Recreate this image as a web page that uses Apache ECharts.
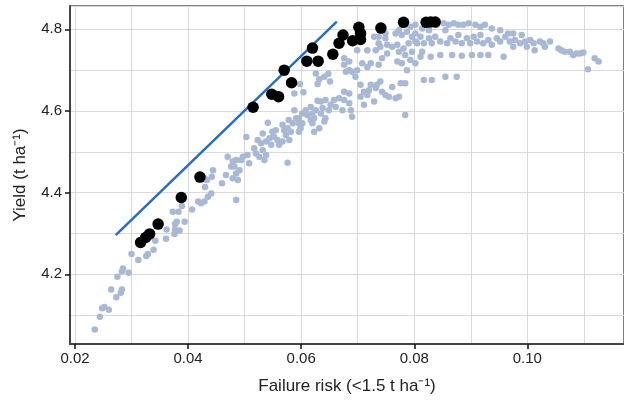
<!DOCTYPE html>
<html>
<head>
<meta charset="utf-8">
<script src="https://cdn.jsdelivr.net/npm/echarts@6/dist/echarts.min.js"></script>
<style>
  html, body { margin: 0; padding: 0; background: #fff; }
  #chart { width: 624px; height: 402px; }
</style>
</head>
<body>
<div id="chart"></div>
<script>
// axis labels
const xTicks = [0.02, 0.04, 0.06, 0.08, 0.10]
const yTicks = [4.2, 4.4, 4.6, 4.8]

// all evaluated options (failure risk, yield)
const allOptions = [
  [0.0235, 4.065], [0.0244, 4.096], [0.0248, 4.117], [0.0252, 4.120], [0.0260, 4.113],
  [0.0264, 4.163], [0.0273, 4.144], [0.0281, 4.155], [0.0283, 4.163], [0.0275, 4.194],
  [0.0285, 4.214], [0.0283, 4.207], [0.0295, 4.204], [0.0300, 4.250], [0.0312, 4.235],
  [0.0326, 4.245], [0.0329, 4.250], [0.0339, 4.260], [0.0342, 4.282], [0.0361, 4.287],
  [0.0362, 4.310], [0.0376, 4.299], [0.0377, 4.310], [0.0385, 4.307], [0.0380, 4.329],
  [0.0377, 4.323], [0.0394, 4.329], [0.0373, 4.353], [0.0383, 4.353], [0.0389, 4.367],
  [0.0407, 4.359], [0.0418, 4.378], [0.0423, 4.374], [0.0429, 4.378], [0.0435, 4.390],
  [0.0441, 4.398], [0.0430, 4.414], [0.0433, 4.431], [0.0442, 4.439], [0.0429, 4.435],
  [0.0460, 4.423], [0.0467, 4.443], [0.0479, 4.435], [0.0485, 4.447], [0.0488, 4.431],
  [0.0485, 4.382], [0.0444, 4.455],
  [0.0470, 4.488], [0.0476, 4.464], [0.0482, 4.464], [0.0485, 4.480], [0.0479, 4.476],
  [0.0491, 4.455], [0.0494, 4.480], [0.0497, 4.488], [0.0503, 4.536], [0.0505, 4.492],
  [0.0508, 4.472], [0.0517, 4.509], [0.0520, 4.496], [0.0529, 4.521], [0.0526, 4.488],
  [0.0535, 4.480], [0.0538, 4.492], [0.0532, 4.504], [0.0538, 4.525], [0.0544, 4.533],
  [0.0547, 4.517], [0.0552, 4.537], [0.0555, 4.553], [0.0549, 4.549], [0.0541, 4.571],
  [0.0558, 4.529], [0.0561, 4.517], [0.0567, 4.525], [0.0573, 4.541], [0.0570, 4.553],
  [0.0576, 4.558], [0.0579, 4.529], [0.0585, 4.570], [0.0591, 4.582], [0.0588, 4.602],
  [0.0596, 4.570], [0.0599, 4.558], [0.0596, 4.549], [0.0576, 4.473], [0.0602, 4.594],
  [0.0608, 4.602], [0.0611, 4.590], [0.0617, 4.578], [0.0620, 4.570], [0.0623, 4.582],
  [0.0626, 4.602], [0.0629, 4.625], [0.0635, 4.623], [0.0635, 4.594], [0.0638, 4.607],
  [0.0641, 4.574], [0.0643, 4.582], [0.0643, 4.627], [0.0632, 4.558], [0.0623, 4.549],
  [0.0588, 4.643], [0.0598, 4.666], [0.0604, 4.646], [0.0626, 4.692], [0.0632, 4.678],
  [0.0629, 4.666], [0.0641, 4.684], [0.0648, 4.691], [0.0651, 4.672],
  [0.0523, 4.529], [0.0532, 4.545], [0.0567, 4.566], [0.0578, 4.578], [0.0582, 4.549],
  [0.0596, 4.582], [0.0602, 4.570], [0.0617, 4.610], [0.0620, 4.594], [0.0649, 4.602],
  [0.0652, 4.615], [0.0658, 4.627], [0.0661, 4.610], [0.0667, 4.631], [0.0673, 4.602],
  [0.0676, 4.627], [0.0685, 4.619], [0.0690, 4.586], [0.0685, 4.643], [0.0676, 4.647],
  [0.0784, 4.590], [0.0688, 4.602],
  [0.0676, 4.713], [0.0679, 4.696], [0.0685, 4.700], [0.0690, 4.696], [0.0699, 4.700],
  [0.0705, 4.664], [0.0711, 4.647], [0.0720, 4.651], [0.0723, 4.664], [0.0732, 4.656],
  [0.0740, 4.672], [0.0743, 4.647], [0.0705, 4.635], [0.0711, 4.615], [0.0729, 4.623],
  [0.0749, 4.639], [0.0755, 4.635], [0.0767, 4.631], [0.0773, 4.635], [0.0699, 4.749],
  [0.0708, 4.717], [0.0717, 4.749], [0.0723, 4.717], [0.0732, 4.749], [0.0737, 4.713],
  [0.0743, 4.729], [0.0740, 4.757], [0.0729, 4.782], [0.0737, 4.782], [0.0749, 4.778],
  [0.0752, 4.762], [0.0770, 4.762], [0.0773, 4.745], [0.0781, 4.753], [0.0790, 4.766],
  [0.0793, 4.725], [0.0802, 4.717], [0.0796, 4.745], [0.0805, 4.766], [0.0770, 4.721],
  [0.0778, 4.717], [0.0773, 4.798], [0.0778, 4.786], [0.0787, 4.794], [0.0796, 4.782],
  [0.0802, 4.790], [0.0784, 4.668],
  [0.0717, 4.639], [0.0734, 4.664], [0.0761, 4.659], [0.0776, 4.668], [0.0696, 4.684],
  [0.0717, 4.708], [0.0676, 4.729], [0.0685, 4.721], [0.0737, 4.766], [0.0749, 4.790],
  [0.0767, 4.790], [0.0752, 4.741], [0.0761, 4.757], [0.0784, 4.737], [0.0787, 4.700],
  [0.0802, 4.811], [0.0814, 4.802], [0.0826, 4.798], [0.0840, 4.811], [0.0852, 4.815],
  [0.0861, 4.811], [0.0870, 4.815], [0.0878, 4.811], [0.0887, 4.811], [0.0896, 4.815],
  [0.0908, 4.811], [0.0917, 4.806], [0.0925, 4.811], [0.0937, 4.802], [0.0952, 4.798],
  [0.0966, 4.790], [0.0975, 4.790],
  [0.0802, 4.770], [0.0811, 4.782], [0.0817, 4.766], [0.0826, 4.778], [0.0831, 4.766],
  [0.0837, 4.782], [0.0846, 4.770], [0.0858, 4.766], [0.0864, 4.778], [0.0873, 4.770],
  [0.0878, 4.786], [0.0884, 4.766], [0.0893, 4.778], [0.0899, 4.766], [0.0905, 4.782],
  [0.0911, 4.770], [0.0917, 4.786], [0.0922, 4.766], [0.0931, 4.774], [0.0937, 4.762],
  [0.0946, 4.778], [0.0952, 4.770], [0.0961, 4.782], [0.0969, 4.770], [0.0978, 4.774],
  [0.0814, 4.745], [0.0811, 4.733], [0.0829, 4.733], [0.0846, 4.737], [0.0867, 4.737],
  [0.0884, 4.735], [0.0902, 4.737], [0.0917, 4.737], [0.0931, 4.737], [0.0958, 4.733],
  [0.0817, 4.676], [0.0831, 4.676], [0.0855, 4.684], [0.0875, 4.684],
  [0.0855, 4.798], [0.0793, 4.806],
  [0.0975, 4.757], [0.0990, 4.786], [0.0987, 4.766], [0.0996, 4.770], [0.0999, 4.757],
  [0.1005, 4.774], [0.1011, 4.766], [0.1013, 4.749], [0.1022, 4.770], [0.1028, 4.766],
  [0.1031, 4.757], [0.1040, 4.770], [0.1055, 4.753], [0.1060, 4.749], [0.1066, 4.745],
  [0.1075, 4.745], [0.1081, 4.737], [0.1087, 4.741], [0.1093, 4.741], [0.1099, 4.743],
  [0.1107, 4.702], [0.1119, 4.729], [0.1126, 4.721]
]

// efficient (frontier) options
const frontier = [
  [0.0316, 4.278], [0.0325, 4.290], [0.0332, 4.299], [0.0347, 4.323], [0.0388, 4.388],
  [0.0421, 4.438], [0.0515, 4.609], [0.0548, 4.641], [0.0560, 4.635], [0.0570, 4.700],
  [0.0583, 4.669], [0.0610, 4.722], [0.0630, 4.722], [0.0620, 4.754], [0.0656, 4.739],
  [0.0667, 4.766], [0.0674, 4.786], [0.0691, 4.772], [0.0705, 4.775], [0.0702, 4.805],
  [0.0705, 4.790], [0.0741, 4.803], [0.0781, 4.817], [0.0821, 4.817], [0.0829, 4.818],
  [0.0837, 4.818]
]

// fitted line
const fitLine = [[0.0272, 4.296], [0.0663, 4.819]]

const xMin = 0.01912, xMax = 0.11709
const yMin = 4.0293, yMax = 4.8571
const gridLine = { show: true, lineStyle: { color: '#d9d9d9', width: 1 } }

// hidden axes that only carry the 0.01 / 0.1 grid
const gridAxis = {
  type: 'value',
  axisLine: { show: false },
  axisTick: { show: false },
  axisLabel: { show: false },
  splitLine: gridLine
}

const chart = echarts.init(document.getElementById('chart'))
chart.setOption({
  animation: false,
  textStyle: { fontFamily: 'Liberation Sans, Arial, sans-serif' },
  grid: {
    left: 70, right: -2, top: 6, bottom: 58,
    show: true, borderColor: '#555', borderWidth: 1.5
  },
  xAxis: [
    {
      type: 'value',
      min: xMin,
      max: xMax,
      name: 'Failure risk (<1.5 t ha⁻¹)',
      nameLocation: 'middle',
      nameGap: 34,
      nameTextStyle: { fontSize: 17, color: '#222' },
      axisLine: { lineStyle: { color: '#444', width: 2 } },
      axisTick: { show: true, customValues: xTicks, length: 5, lineStyle: { color: '#111', width: 1.5 } },
      axisLabel: { customValues: xTicks, fontSize: 15, color: '#222', margin: 7, formatter: (v) => v.toFixed(2) },
      splitLine: { show: false },
      z: 3
    },
    Object.assign({ min: xMin, max: xMax, splitNumber: 10, position: 'top' }, gridAxis)
  ],
  yAxis: [
    {
      type: 'value',
      min: yMin,
      max: yMax,
      name: 'Yield (t ha⁻¹)',
      nameLocation: 'middle',
      nameGap: 41,
      nameTextStyle: { fontSize: 17, color: '#222' },
      axisLine: { show: true, lineStyle: { color: '#444', width: 2 } },
      axisTick: { show: true, customValues: yTicks, length: 5, lineStyle: { color: '#111', width: 1.5 } },
      axisLabel: { customValues: yTicks, fontSize: 15, color: '#222', margin: 8, formatter: (v) => v.toFixed(1) },
      splitLine: { show: false },
      z: 3
    },
    Object.assign({ min: yMin, max: yMax, splitNumber: 8, position: 'right' }, gridAxis)
  ],
  series: [
    {
      type: 'scatter',
      data: allOptions,
      symbolSize: 6.5,
      itemStyle: { color: '#a8b8d5', opacity: 1 },
      z: 2
    },
    {
      type: 'line',
      data: fitLine,
      symbol: 'none',
      lineStyle: { color: '#2a6cbf', width: 2.5 },
      z: 3
    },
    {
      type: 'scatter',
      data: frontier,
      symbolSize: 11.5,
      itemStyle: { color: '#000', opacity: 1 },
      z: 4
    }
  ]
})
</script>
</body>
</html>
